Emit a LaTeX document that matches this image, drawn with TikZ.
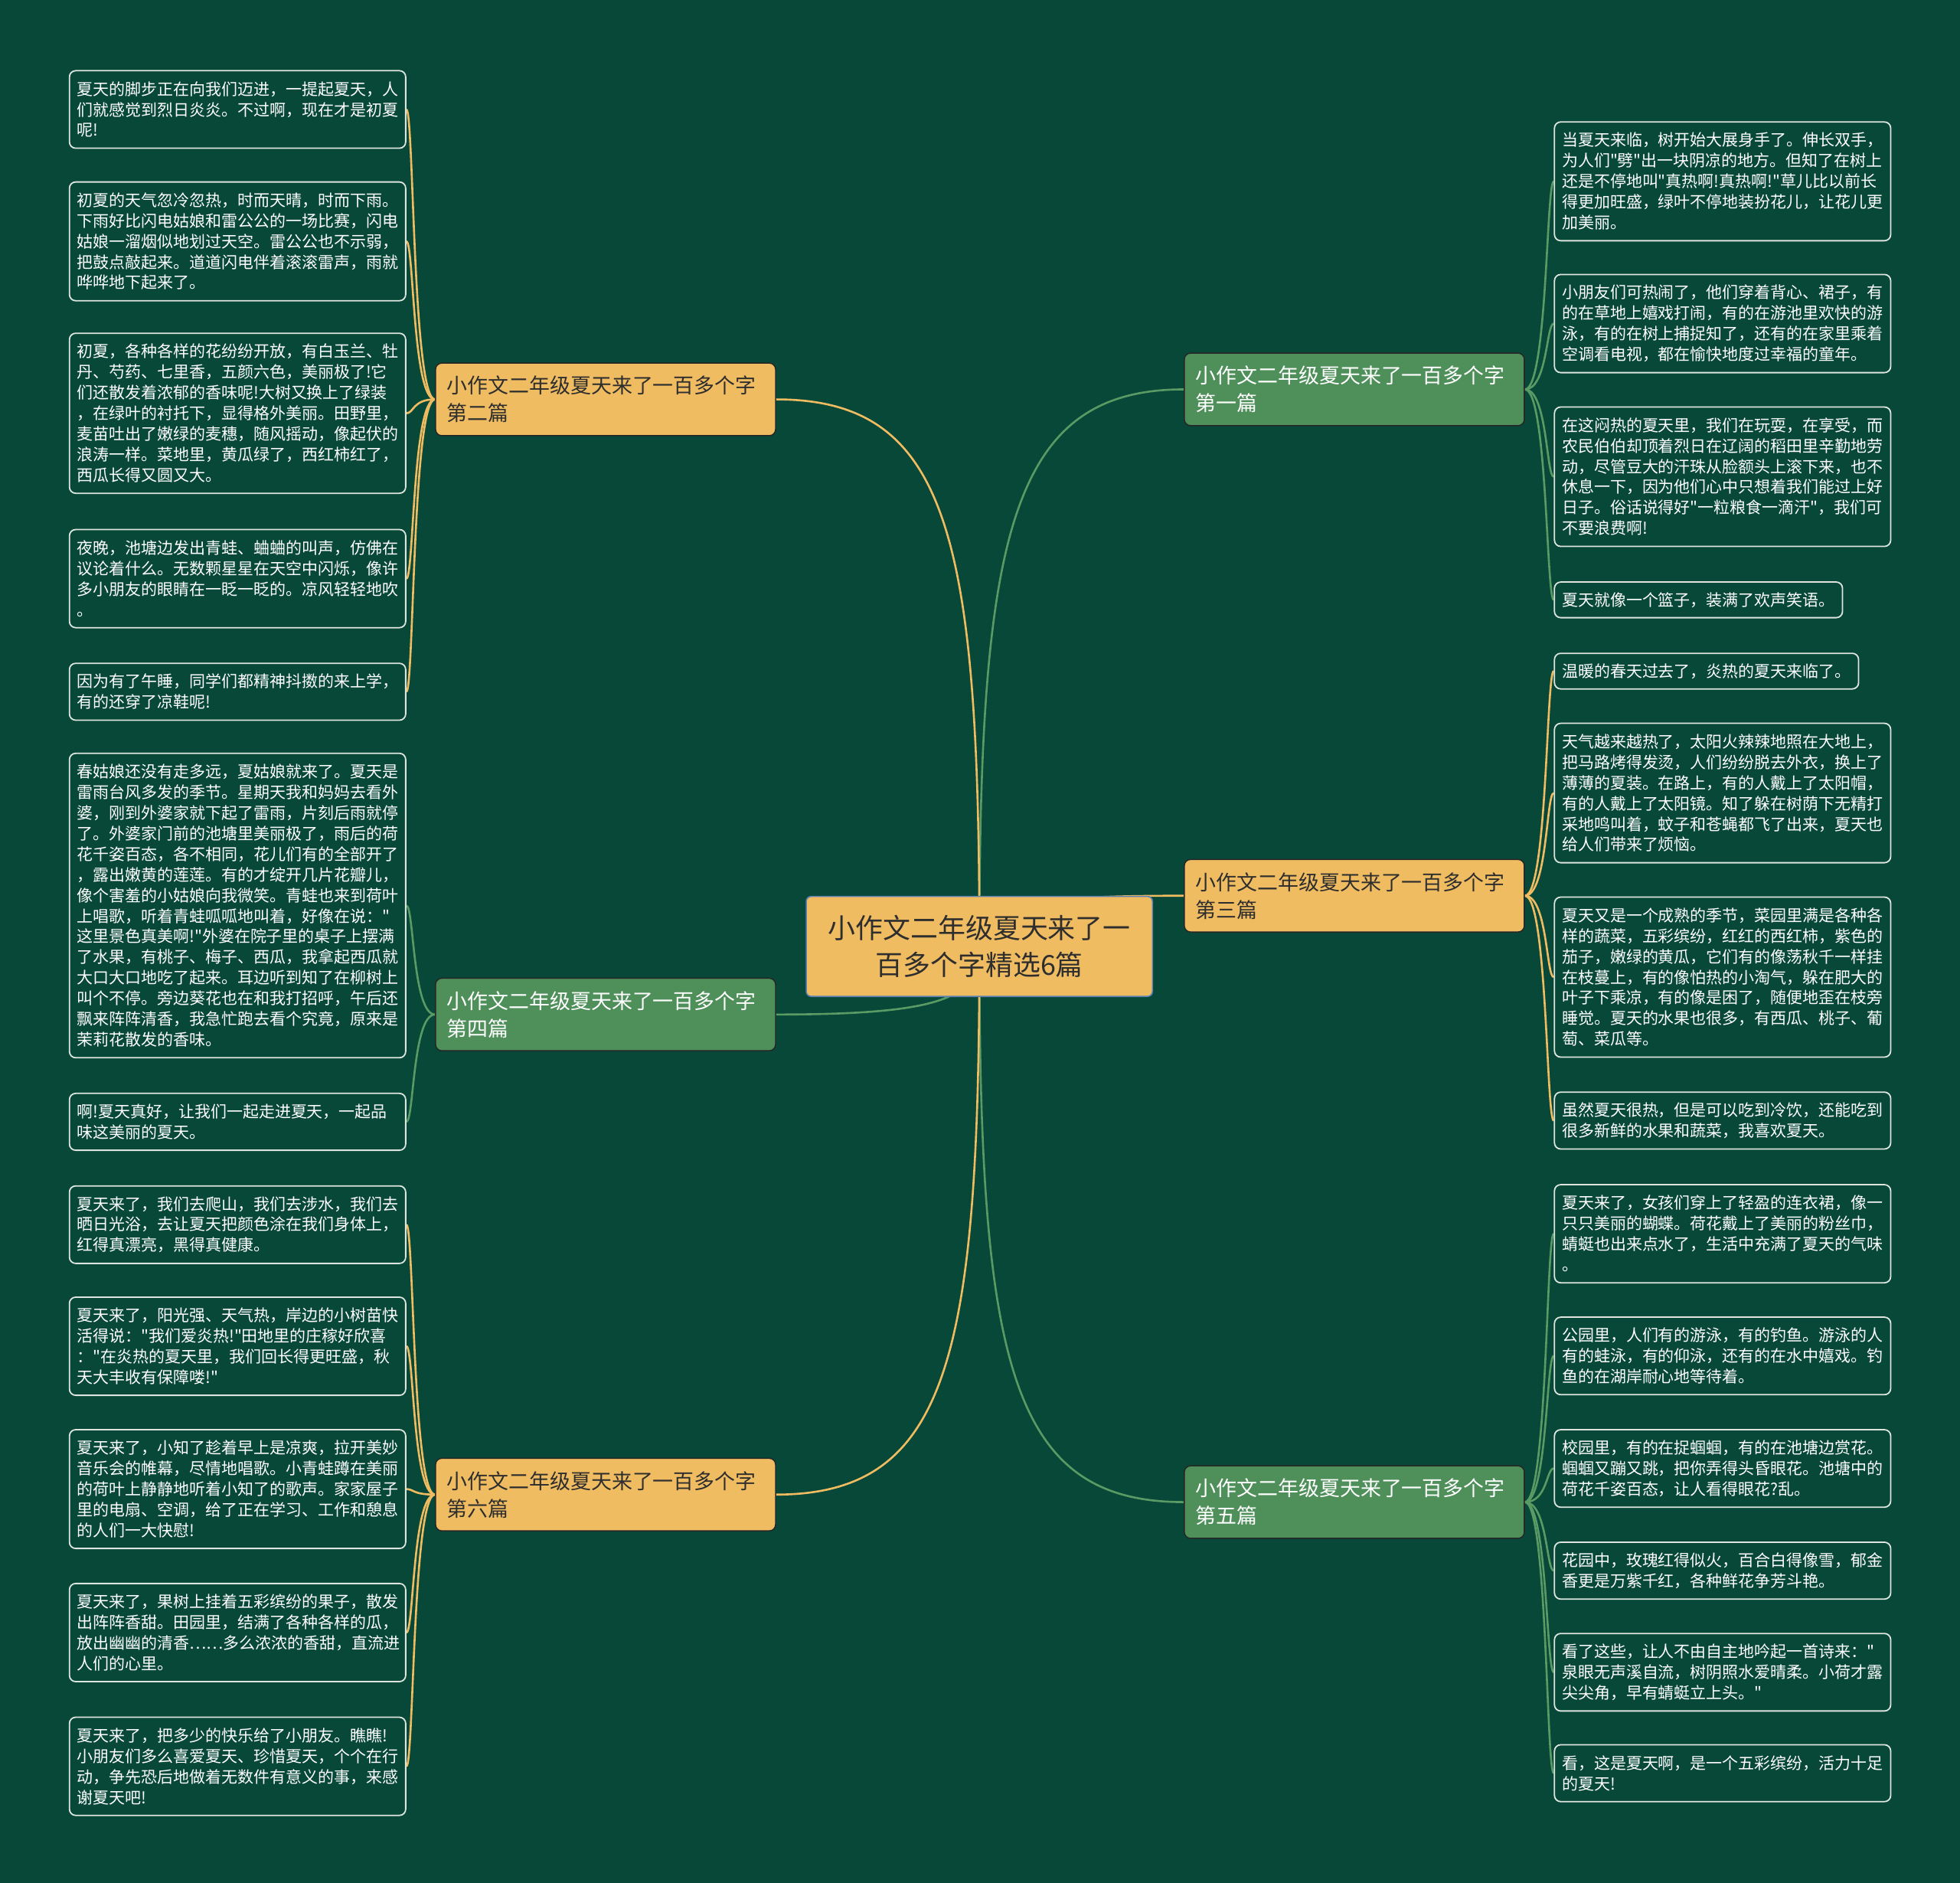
\documentclass[tikz,border=0pt]{standalone}
\usepackage{fontspec}
\setmainfont{Noto Sans CJK SC}[Ligatures=TeXOff]
\definecolor{bgc}{HTML}{074838}
\definecolor{orng}{HTML}{F0BC62}
\definecolor{grn}{HTML}{4E8F5A}
\definecolor{grnline}{HTML}{5A9A64}
\definecolor{leafline}{HTML}{DDE5DE}
\definecolor{darktext}{HTML}{2E2E2E}
\definecolor{cborder}{HTML}{5A80B4}
\pgfdeclarelayer{back}
\pgfdeclarelayer{links}
\pgfsetlayers{back,links,main}
\tikzset{
  centerbox/.style={draw=cborder, line width=1pt, fill=orng, rounded corners=4pt,
    minimum width=277pt, minimum height=80pt, align=center, text=darktext,
    font=\fontsize{22}{29}\selectfont, inner sep=0pt},
  branchbox/.style={draw=black!85, line width=0.9pt, rounded corners=5pt,
    minimum width=272pt, minimum height=58pt, text width=254pt, inner xsep=9pt,
    inner ysep=2pt, align=left, font=\fontsize{16.5}{22}\selectfont, anchor=north west},
  obranch/.style={branchbox, fill=orng, text=darktext},
  gbranch/.style={branchbox, fill=grn, text=white},
  leafbase/.style={draw=leafline, line width=1.1pt, rounded corners=5pt, fill=bgc,
    text=white, align=left, font=\fontsize{12.85}{16.5}\selectfont,
    anchor=north west, inner xsep=6pt, inner ysep=2pt},
  leaf/.style={leafbase, text width=257pt, minimum height=#1},
  leafone/.style={leafbase, minimum height=28.5pt},
  ylink/.style={draw=orng, line width=1.6pt},
  glink/.style={draw=grnline, line width=1.6pt},
}
\begin{document}
\begin{tikzpicture}[x=1pt, y=-1pt]
\begin{pgfonlayer}{back}
\fill[bgc] (0,0) rectangle (1568,1506);
\end{pgfonlayer}
\useasboundingbox (0,0) rectangle (1568,1506);

% center
\node[centerbox] (c) at (783.5,757) {小作文二年级夏天来了一\\百多个字精选6篇};

% branches
\node[gbranch] (b1) at (947,282) {小作文二年级夏天来了一百多个字\\第一篇};
\node[obranch] (b2) at (348,290) {小作文二年级夏天来了一百多个字\\第二篇};
\node[obranch] (b3) at (947,687) {小作文二年级夏天来了一百多个字\\第三篇};
\node[gbranch] (b4) at (348,782) {小作文二年级夏天来了一百多个字\\第四篇};
\node[gbranch] (b5) at (947,1172) {小作文二年级夏天来了一百多个字\\第五篇};
\node[obranch] (b6) at (348,1166) {小作文二年级夏天来了一百多个字\\第六篇};

% left leaves
\node[leaf=62pt] (l1) at (55,56) {夏天的脚步正在向我们迈进，一提起夏天，人\\们就感觉到烈日炎炎。不过啊，现在才是初夏\\呢!};
\node[leaf=95pt] (l2) at (55,145) {初夏的天气忽冷忽热，时而天晴，时而下雨。\\下雨好比闪电姑娘和雷公公的一场比赛，闪电\\姑娘一溜烟似地划过天空。雷公公也不示弱，\\把鼓点敲起来。道道闪电伴着滚滚雷声，雨就\\哗哗地下起来了。};
\node[leaf=128pt] (l3) at (55,266) {初夏，各种各样的花纷纷开放，有白玉兰、牡\\丹、芍药、七里香，五颜六色，美丽极了!它\\们还散发着浓郁的香味呢!大树又换上了绿装\\，在绿叶的衬托下，显得格外美丽。田野里，\\麦苗吐出了嫩绿的麦穗，随风摇动，像起伏的\\浪涛一样。菜地里，黄瓜绿了，西红柿红了，\\西瓜长得又圆又大。};
\node[leaf=78.5pt] (l4) at (55,423) {夜晚，池塘边发出青蛙、蛐蛐的叫声，仿佛在\\议论着什么。无数颗星星在天空中闪烁，像许\\多小朋友的眼睛在一眨一眨的。凉风轻轻地吹\\。};
\node[leaf=45.5pt] (l5) at (55,530) {因为有了午睡，同学们都精神抖擞的来上学，\\有的还穿了凉鞋呢!};
\node[leaf=243.5pt] (l6) at (55,602) {春姑娘还没有走多远，夏姑娘就来了。夏天是\\雷雨台风多发的季节。星期天我和妈妈去看外\\婆，刚到外婆家就下起了雷雨，片刻后雨就停\\了。外婆家门前的池塘里美丽极了，雨后的荷\\花千姿百态，各不相同，花儿们有的全部开了\\，露出嫩黄的莲莲。有的才绽开几片花瓣儿，\\像个害羞的小姑娘向我微笑。青蛙也来到荷叶\\上唱歌，听着青蛙呱呱地叫着，好像在说："\\这里景色真美啊!"外婆在院子里的桌子上摆满\\了水果，有桃子、梅子、西瓜，我拿起西瓜就\\大口大口地吃了起来。耳边听到知了在柳树上\\叫个不停。旁边葵花也在和我打招呼，午后还\\飘来阵阵清香，我急忙跑去看个究竟，原来是\\茉莉花散发的香味。};
\node[leaf=45.5pt] (l7) at (55,874) {啊!夏天真好，让我们一起走进夏天，一起品\\味这美丽的夏天。};
\node[leaf=62pt] (l8) at (55,948) {夏天来了，我们去爬山，我们去涉水，我们去\\晒日光浴，去让夏天把颜色涂在我们身体上，\\红得真漂亮，黑得真健康。};
\node[leaf=78.5pt] (l9) at (55,1037) {夏天来了，阳光强、天气热，岸边的小树苗快\\活得说："我们爱炎热!"田地里的庄稼好欣喜\\："在炎热的夏天里，我们回长得更旺盛，秋\\天大丰收有保障喽!"};
\node[leaf=95pt] (l10) at (55,1143) {夏天来了，小知了趁着早上是凉爽，拉开美妙\\音乐会的帷幕，尽情地唱歌。小青蛙蹲在美丽\\的荷叶上静静地听着小知了的歌声。家家屋子\\里的电扇、空调，给了正在学习、工作和憩息\\的人们一大快慰!};
\node[leaf=78.5pt] (l11) at (55,1266) {夏天来了，果树上挂着五彩缤纷的果子，散发\\出阵阵香甜。田园里，结满了各种各样的瓜，\\放出幽幽的清香……多么浓浓的香甜，直流进\\人们的心里。};
\node[leaf=78.5pt] (l12) at (55,1373) {夏天来了，把多少的快乐给了小朋友。瞧瞧!\\小朋友们多么喜爱夏天、珍惜夏天，个个在行\\动，争先恐后地做着无数件有意义的事，来感\\谢夏天吧!};

% right leaves
\node[leaf=95pt] (r1) at (1243,97) {当夏天来临，树开始大展身手了。伸长双手，\\为人们"劈"出一块阴凉的地方。但知了在树上\\还是不停地叫"真热啊!真热啊!"草儿比以前长\\得更加旺盛，绿叶不停地装扮花儿，让花儿更\\加美丽。};
\node[leaf=78.5pt] (r2) at (1243,219) {小朋友们可热闹了，他们穿着背心、裙子，有\\的在草地上嬉戏打闹，有的在游池里欢快的游\\泳，有的在树上捕捉知了，还有的在家里乘着\\空调看电视，都在愉快地度过幸福的童年。};
\node[leaf=111.5pt] (r3) at (1243,325) {在这闷热的夏天里，我们在玩耍，在享受，而\\农民伯伯却顶着烈日在辽阔的稻田里辛勤地劳\\动，尽管豆大的汗珠从脸额头上滚下来，也不\\休息一下，因为他们心中只想着我们能过上好\\日子。俗话说得好"一粒粮食一滴汗"，我们可\\不要浪费啊!};
\node[leafone] (r4) at (1243,465) {夏天就像一个篮子，装满了欢声笑语。};
\node[leafone] (r5) at (1243,522) {温暖的春天过去了，炎热的夏天来临了。};
\node[leaf=111.5pt] (r6) at (1243,578) {天气越来越热了，太阳火辣辣地照在大地上，\\把马路烤得发烫，人们纷纷脱去外衣，换上了\\薄薄的夏装。在路上，有的人戴上了太阳帽，\\有的人戴上了太阳镜。知了躲在树荫下无精打\\采地鸣叫着，蚊子和苍蝇都飞了出来，夏天也\\给人们带来了烦恼。};
\node[leaf=128pt] (r7) at (1243,717) {夏天又是一个成熟的季节，菜园里满是各种各\\样的蔬菜，五彩缤纷，红红的西红柿，紫色的\\茄子，嫩绿的黄瓜，它们有的像荡秋千一样挂\\在枝蔓上，有的像怕热的小淘气，躲在肥大的\\叶子下乘凉，有的像是困了，随便地歪在枝旁\\睡觉。夏天的水果也很多，有西瓜、桃子、葡\\萄、菜瓜等。};
\node[leaf=45.5pt] (r8) at (1243,873) {虽然夏天很热，但是可以吃到冷饮，还能吃到\\很多新鲜的水果和蔬菜，我喜欢夏天。};
\node[leaf=78.5pt] (r9) at (1243,947) {夏天来了，女孩们穿上了轻盈的连衣裙，像一\\只只美丽的蝴蝶。荷花戴上了美丽的粉丝巾，\\蜻蜓也出来点水了，生活中充满了夏天的气味\\。};
\node[leaf=62pt] (r10) at (1243,1053) {公园里，人们有的游泳，有的钓鱼。游泳的人\\有的蛙泳，有的仰泳，还有的在水中嬉戏。钓\\鱼的在湖岸耐心地等待着。};
\node[leaf=62pt] (r11) at (1243,1143) {校园里，有的在捉蝈蝈，有的在池塘边赏花。\\蝈蝈又蹦又跳，把你弄得头昏眼花。池塘中的\\荷花千姿百态，让人看得眼花?乱。};
\node[leaf=45.5pt] (r12) at (1243,1233) {花园中，玫瑰红得似火，百合白得像雪，郁金\\香更是万紫千红，各种鲜花争芳斗艳。};
\node[leaf=62pt] (r13) at (1243,1306) {看了这些，让人不由自主地吟起一首诗来："\\泉眼无声溪自流，树阴照水爱晴柔。小荷才露\\尖尖角，早有蜻蜓立上头。"};
\node[leaf=45.5pt] (r14) at (1243,1395) {看，这是夏天啊，是一个五彩缤纷，活力十足\\的夏天!};

\begin{pgfonlayer}{links}
% center to branches
\draw[glink] (c.center) .. controls +(0,-328) and +(-139,0) .. (b1.west);
\draw[ylink] (c.center) .. controls +(0,-328) and +(138,0) .. (b2.east);
\draw[ylink] (c.center) .. controls +(0,-31) and +(-139,0) .. (b3.west);
\draw[glink] (c.center) .. controls +(0,40) and +(138,0) .. (b4.east);
\draw[glink] (c.center) .. controls +(0,333) and +(-139,0) .. (b5.west);
\draw[ylink] (c.center) .. controls +(0,328) and +(138,0) .. (b6.east);
% branches to leaves
\foreach \l in {l1,l2,l3,l4,l5}
  \draw[ylink] (b2.west) .. controls +(-18,0) and +(6,0) .. (\l.east);
\foreach \l in {l6,l7}
  \draw[glink] (b4.west) .. controls +(-18,0) and +(6,0) .. (\l.east);
\foreach \l in {l8,l9,l10,l11,l12}
  \draw[ylink] (b6.west) .. controls +(-18,0) and +(6,0) .. (\l.east);
\foreach \r in {r1,r2,r3,r4}
  \draw[glink] (b1.east) .. controls +(18,0) and +(-6,0) .. (\r.west);
\foreach \r in {r5,r6,r7,r8}
  \draw[ylink] (b3.east) .. controls +(18,0) and +(-6,0) .. (\r.west);
\foreach \r in {r9,r10,r11,r12,r13,r14}
  \draw[glink] (b5.east) .. controls +(18,0) and +(-6,0) .. (\r.west);
\end{pgfonlayer}
\end{tikzpicture}
\end{document}
